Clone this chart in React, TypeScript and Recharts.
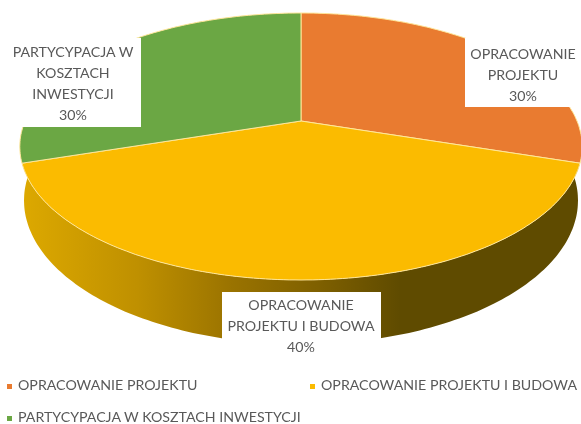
import React from 'react';
import { PieChart, Pie, Legend } from 'recharts';

const names = ['OPRACOWANIE PROJEKTU', 'OPRACOWANIE PROJEKTU I BUDOWA', 'PARTYCYPACJA W KOSZTACH INWESTYCJI'];
const shares = [30, 40, 30];
const colors = ['#E97B30', '#FBBB00', '#6BA744'];
const labelLines = [
  ['OPRACOWANIE', 'PROJEKTU'],
  ['OPRACOWANIE', 'PROJEKTU I BUDOWA'],
  ['PARTYCYPACJA W', 'KOSZTACH', 'INWESTYCJI'],
];

const data = names.map((name, i) => ({ name, value: shares[i], fill: colors[i] }));

// white boxes behind the data labels
const labelBoxes = [
  { x: 465, y: 38, w: 116, h: 69, textX: 523, textY: 59 },
  { x: 222, y: 292, w: 159, h: 66, textX: 301, textY: 310 },
  { x: 0, y: 38, w: 141, h: 89, textX: 73, textY: 57 },
];
const LINE_HEIGHT = 21;
const TEXT = '#595959';
const FONT = 'Lato, sans-serif';
const FONT_SIZE = 14.2;

// the 3D look: a flat circle seen in perspective
const TILT = 0.191;
const SQUASH = 105.5;
const DEPTH = 52;
const RAD = Math.PI / 180;

function project(cx: number, cy: number, r: number, deg: number, shift = 0) {
  const u = Math.cos(deg * RAD);
  const v = -Math.sin(deg * RAD);
  const d = 1 - TILT * v;
  return [cx + (r * u) / d, (cy + SQUASH * v + shift) / d];
}

function arc(cx: number, cy: number, r: number, from: number, to: number, shift = 0) {
  const steps = Math.max(2, Math.ceil(Math.abs(to - from)));
  const pts: string[] = [];
  for (let i = 0; i <= steps; i++) {
    const p = project(cx, cy, r, from + ((to - from) * i) / steps, shift);
    pts.push(`${p[0].toFixed(1)} ${p[1].toFixed(1)}`);
  }
  return pts;
}

function Slice3D(props: any) {
  const { cx, cy, outerRadius, startAngle, endAngle, fill } = props;
  const top = arc(cx, cy, outerRadius, startAngle, endAngle);
  // only the slice facing the viewer shows its side wall
  const front = startAngle <= 0 && endAngle >= -180;
  return (
    <g>
      {front && (
        <>
          <defs>
            <linearGradient id="wall" gradientUnits="userSpaceOnUse" x1="25" y1="0" x2="400" y2="0">
              <stop offset="0" stopColor="#DCA800" />
              <stop offset="0.3" stopColor="#BF9000" />
              <stop offset="0.55" stopColor="#9A7300" />
              <stop offset="0.78" stopColor="#7F6000" />
              <stop offset="1" stopColor="#5F4B00" />
            </linearGradient>
          </defs>
          <path
            d={`M${top.join(' L')} L${arc(cx, cy, outerRadius * 0.985, -180, 0, DEPTH).join(' L')} Z`}
            fill="url(#wall)"
          />
        </>
      )}
      <path
        d={`M${cx} ${cy} L${top.join(' L')} Z`}
        fill={fill}
        stroke="#FFE699"
        strokeWidth={1}
        strokeLinejoin="round"
      />
    </g>
  );
}

function SliceLabel(props: any) {
  const { index, percent } = props;
  const box = labelBoxes[index];
  const lines = [...labelLines[index], `${Math.round(percent * 100)}%`];
  return (
    <g>
      <rect x={box.x} y={box.y} width={box.w} height={box.h} fill="#fff" />
      <text x={box.textX} y={box.textY} textAnchor="middle" fill={TEXT} fontFamily={FONT} fontSize={FONT_SIZE}>
        {lines.map((line, i) => (
          <tspan key={line} x={box.textX} dy={i === 0 ? 0 : LINE_HEIGHT}>
            {line}
          </tspan>
        ))}
      </text>
    </g>
  );
}

const legendSpots = [
  { left: 7, top: 376 },
  { left: 310, top: 376 },
  { left: 7, top: 408 },
];

function PieLegend() {
  return (
    <div style={{ position: 'absolute', left: 0, top: 0, fontFamily: FONT, fontSize: FONT_SIZE, color: TEXT }}>
      {names.map((name, i) => (
        <div
          key={name}
          style={{ position: 'absolute', left: legendSpots[i].left, top: legendSpots[i].top, whiteSpace: 'nowrap', lineHeight: '18px' }}
        >
          <span
            style={{ display: 'inline-block', width: 5, height: 5, background: colors[i], marginRight: 6, verticalAlign: 'middle' }}
          />
          {name}
        </div>
      ))}
    </div>
  );
}

export default function App() {
  return (
    <div style={{ position: 'absolute', left: 0, top: 0, width: 581, height: 424, background: '#fff', overflow: 'hidden', filter: 'blur(0.4px)' }}>
      <PieChart width={581} height={424} margin={{ top: 0, right: 0, bottom: 0, left: 0 }}>
        <Pie
          data={data}
          dataKey="value"
          nameKey="name"
          cx={301}
          cy={121}
          outerRadius={276}
          startAngle={90}
          endAngle={-270}
          shape={Slice3D}
          label={SliceLabel}
          labelLine={false}
          isAnimationActive={false}
        />
        <Legend content={PieLegend} wrapperStyle={{ left: 0, top: 0, width: 581, height: 0 }} />
      </PieChart>
    </div>
  );
}
